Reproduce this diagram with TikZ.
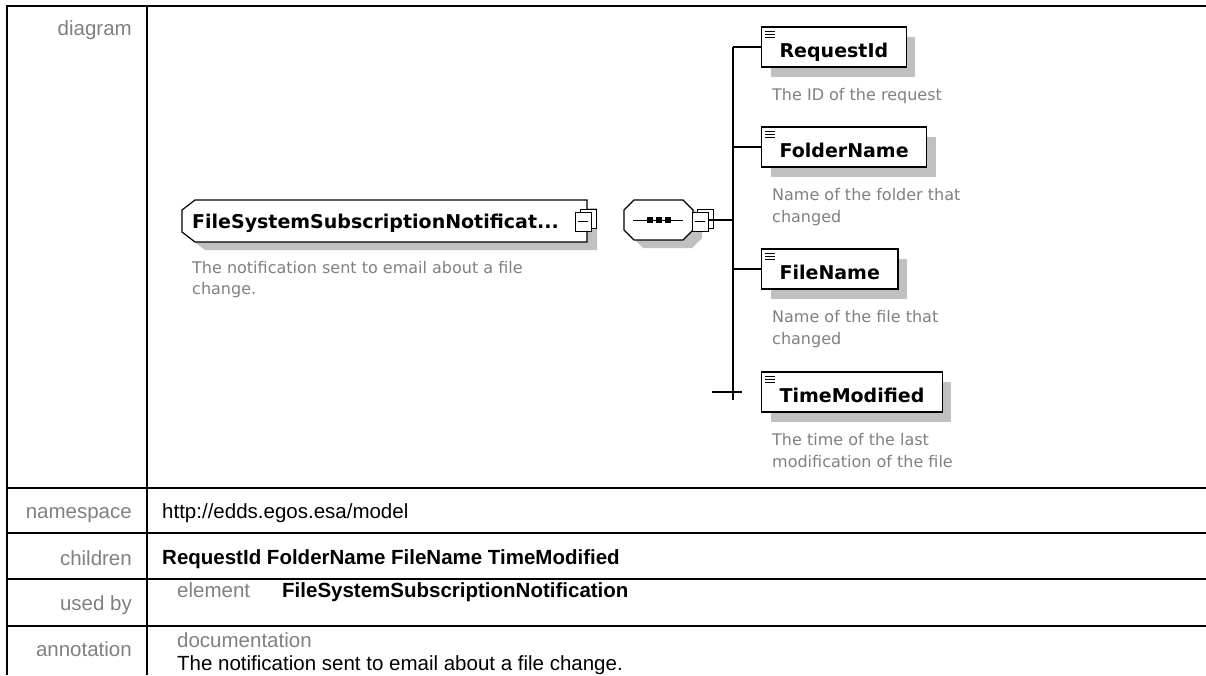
\documentclass[tikz,border=0pt]{standalone}
\usepackage{fontspec}
\setmainfont{Liberation Sans}
\newfontfamily\verdana{DejaVu Sans}
\usetikzlibrary{positioning,shadows}
\definecolor{labelgray}{HTML}{808080}
\definecolor{shadowgray}{HTML}{C0C0C0}
\tikzset{
  rowlabel/.style={anchor=base east, inner sep=0pt, text=labelgray, font=\fontsize{20.5}{24}\selectfont},
  rowvalue/.style={anchor=base west, inner sep=0pt, font=\fontsize{20.5}{24}\selectfont},
  rowbold/.style={rowvalue, font=\fontsize{20.5}{24}\selectfont\bfseries},
  elname/.style={font=\verdana\bfseries\fontsize{19}{22}\selectfont},
  child/.style={elname, draw, fill=white, line width=1.2pt, anchor=west, minimum height=40pt,
    inner xsep=18pt, inner ysep=0pt, text height=24pt, text depth=4pt,
    drop shadow={shadow xshift=9pt, shadow yshift=-10pt, fill=shadowgray, opacity=1}},
  desc/.style={font=\verdana\fontsize{16}{21.5}\selectfont, text=labelgray, align=left, inner sep=0pt},
  minusbox/.pic={
    \draw[line width=1pt, fill=white] (-3,-12) rectangle (13,7);
    \draw[line width=1pt, fill=white] (-8,-9) rectangle (8,10);
    \draw[line width=1pt] (-5,0) -- (5,0);
  },
}
\begin{document}
\begin{tikzpicture}[x=1pt, y=-1pt]
  \useasboundingbox (0,0) rectangle (1206,675);
  % table
  \draw[line width=2pt] (1206,6) -- (7,6) -- (7,675);
  \draw[line width=2pt] (147,6) -- (147,675);
  \foreach \y in {488,533,579,626}
    \draw[line width=2pt] (7,\y) -- (1206,\y);
  \node[rowlabel] (lbldiagram) at (132,35) {diagram};
  \node[rowlabel] (lblns) at (132,518) {namespace};
  \node[rowlabel] (lblchildren) at (132,565) {children};
  \node[rowlabel] (lblusedby) at (132,610) {used by};
  \node[rowlabel] (lblanno) at (132,656) {annotation};
  \node[rowvalue] (nsval) at (162,518) {http://edds.egos.esa/model};
  \node[rowbold] (childval) at (162,564) {RequestId FolderName FileName TimeModified};
  \node[rowvalue, text=labelgray] (usedkind) at (177,597) {element};
  \node[rowbold] (usedname) at (282,597) {FileSystemSubscriptionNotification};
  \node[rowvalue, text=labelgray] (docattr) at (177,647) {documentation};
  \node[rowvalue] (docval) at (177,670) {The notification sent to email about a file change.};
  % root element
  \fill[shadowgray, shift={(10,8)}] (182,210) -- (195,200) -- (587,200) -- (587,242) -- (195,242) -- (182,232) -- cycle;
  \draw[line width=1.2pt, fill=white] (182,210) -- (195,200) -- (587,200) -- (587,242) -- (195,242) -- (182,232) -- cycle;
  \node[elname, anchor=base west, inner sep=0pt] (root) at (192,228) {FileSystemSubscriptionNotificat...};
  \pic at (583,221) {minusbox};
  \node[desc, anchor=north west] (rootdesc) at (192,261) {The notification sent to email about a file\\change.};
  % sequence
  \fill[shadowgray, shift={(9,8)}] (624,210) -- (634,200) -- (683,200) -- (693,210) -- (693,230) -- (683,240) -- (634,240) -- (624,230) -- cycle;
  \draw[line width=1.2pt, fill=white] (624,210) -- (634,200) -- (683,200) -- (693,210) -- (693,230) -- (683,240) -- (634,240) -- (624,230) -- cycle;
  \draw[line width=1pt] (633,220) -- (683,220);
  \foreach \x in {650,659,668}
    \fill (\x-3,217) rectangle (\x+3,223);
  \pic at (700,221) {minusbox};
  \coordinate (seqout) at (708,220);
  % children
  \node[child] (reqid) at (761,47) {RequestId};
  \node[child] (folder) at (761,147) {FolderName};
  \node[child] (file) at (761,269) {FileName};
  \node[child] (time) at (761,392) {TimeModified};
  \foreach \n in {reqid,folder,file,time}
    \foreach \k in {5,8,11}
      \draw[line width=0.8pt] ([xshift=4pt,yshift=-\k pt]\n.north west) -- ++(10,0);
  \node[desc, below=21pt of reqid.south west, anchor=north west, xshift=11pt] (reqiddesc) {The ID of the request};
  \node[desc, below=21pt of folder.south west, anchor=north west, xshift=11pt] (folderdesc) {Name of the folder that\\changed};
  \node[desc, below=21pt of file.south west, anchor=north west, xshift=11pt] (filedesc) {Name of the file that\\changed};
  \node[desc, below=21pt of time.south west, anchor=north west, xshift=11pt] (timedesc) {The time of the last\\modification of the file};
  \coordinate (spinetop) at (733,47);
  \coordinate (spinebot) at (733,400);
  \coordinate (tstub) at (time.west -| spinetop);
  \draw[line width=1.2pt] (spinetop) -- (spinebot);
  \draw[line width=1.2pt] (seqout) -- (seqout -| spinetop);
  \draw[line width=1.2pt] (reqid.west -| spinetop) -- (reqid.west);
  \draw[line width=1.2pt] (folder.west -| spinetop) -- (folder.west);
  \draw[line width=1.2pt] (file.west -| spinetop) -- (file.west);
  \draw[line width=1.2pt] ([xshift=-21pt]tstub) -- ([xshift=9pt]tstub);
\end{tikzpicture}
\end{document}
